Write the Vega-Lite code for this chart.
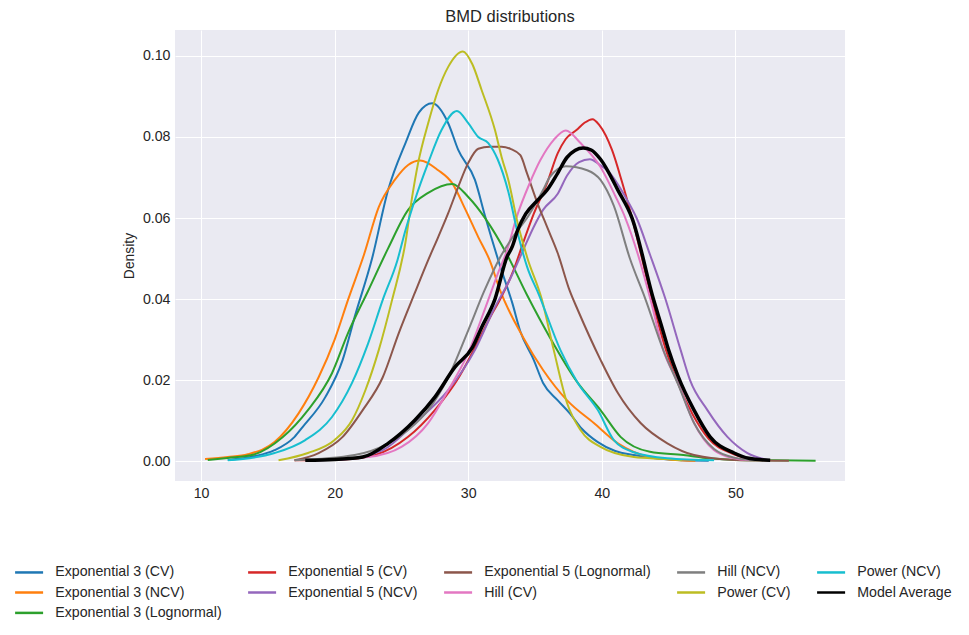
{
  "$schema": "https://vega.github.io/schema/vega-lite/v6.json",
  "description": "BMD distributions, density of each model",
  "autosize": {"type": "none"},
  "padding": {"left": 175, "top": 30, "right": 124, "bottom": 154},
  "width": 670,
  "height": 451,
  "background": "white",
  "title": {"text": "BMD distributions", "offset": 5, "frame": "group"},
  "datasets": {
    "kde": [
      {"model": "Exponential 3 (CV)", "bmd": 12, "density": 0.0003},
      {"model": "Exponential 3 (CV)", "bmd": 14, "density": 0.0012},
      {"model": "Exponential 3 (CV)", "bmd": 15.5, "density": 0.0027},
      {"model": "Exponential 3 (CV)", "bmd": 17, "density": 0.006},
      {"model": "Exponential 3 (CV)", "bmd": 17.6, "density": 0.0084},
      {"model": "Exponential 3 (CV)", "bmd": 19.3, "density": 0.0158},
      {"model": "Exponential 3 (CV)", "bmd": 20.6, "density": 0.025},
      {"model": "Exponential 3 (CV)", "bmd": 21.5, "density": 0.0356},
      {"model": "Exponential 3 (CV)", "bmd": 22.8, "density": 0.05},
      {"model": "Exponential 3 (CV)", "bmd": 24, "density": 0.0669},
      {"model": "Exponential 3 (CV)", "bmd": 25.3, "density": 0.0785},
      {"model": "Exponential 3 (CV)", "bmd": 26.3, "density": 0.086},
      {"model": "Exponential 3 (CV)", "bmd": 27.3, "density": 0.0883},
      {"model": "Exponential 3 (CV)", "bmd": 28.5, "density": 0.0834},
      {"model": "Exponential 3 (CV)", "bmd": 29.25, "density": 0.0768},
      {"model": "Exponential 3 (CV)", "bmd": 30.5, "density": 0.0694},
      {"model": "Exponential 3 (CV)", "bmd": 31.3, "density": 0.06},
      {"model": "Exponential 3 (CV)", "bmd": 32.4, "density": 0.048},
      {"model": "Exponential 3 (CV)", "bmd": 33.3, "density": 0.039},
      {"model": "Exponential 3 (CV)", "bmd": 33.9, "density": 0.032},
      {"model": "Exponential 3 (CV)", "bmd": 34.9, "density": 0.025},
      {"model": "Exponential 3 (CV)", "bmd": 35.6, "density": 0.0193},
      {"model": "Exponential 3 (CV)", "bmd": 36.7, "density": 0.015},
      {"model": "Exponential 3 (CV)", "bmd": 37.6, "density": 0.0118},
      {"model": "Exponential 3 (CV)", "bmd": 38.5, "density": 0.008},
      {"model": "Exponential 3 (CV)", "bmd": 39.7, "density": 0.0047},
      {"model": "Exponential 3 (CV)", "bmd": 41, "density": 0.0025},
      {"model": "Exponential 3 (CV)", "bmd": 42.4, "density": 0.0015},
      {"model": "Exponential 3 (CV)", "bmd": 44, "density": 0.0007},
      {"model": "Exponential 3 (CV)", "bmd": 46, "density": 0.0002},
      {"model": "Exponential 3 (CV)", "bmd": 48, "density": 0.0001},

      {"model": "Exponential 3 (NCV)", "bmd": 10.3, "density": 0.0005},
      {"model": "Exponential 3 (NCV)", "bmd": 12, "density": 0.001},
      {"model": "Exponential 3 (NCV)", "bmd": 13.5, "density": 0.0017},
      {"model": "Exponential 3 (NCV)", "bmd": 15.5, "density": 0.0047},
      {"model": "Exponential 3 (NCV)", "bmd": 17.3, "density": 0.0118},
      {"model": "Exponential 3 (NCV)", "bmd": 18.8, "density": 0.0207},
      {"model": "Exponential 3 (NCV)", "bmd": 20, "density": 0.03},
      {"model": "Exponential 3 (NCV)", "bmd": 21, "density": 0.0398},
      {"model": "Exponential 3 (NCV)", "bmd": 22.2, "density": 0.051},
      {"model": "Exponential 3 (NCV)", "bmd": 23.3, "density": 0.0627},
      {"model": "Exponential 3 (NCV)", "bmd": 24.5, "density": 0.0694},
      {"model": "Exponential 3 (NCV)", "bmd": 25.5, "density": 0.0731},
      {"model": "Exponential 3 (NCV)", "bmd": 26.4, "density": 0.0742},
      {"model": "Exponential 3 (NCV)", "bmd": 27.75, "density": 0.0718},
      {"model": "Exponential 3 (NCV)", "bmd": 28.8, "density": 0.0686},
      {"model": "Exponential 3 (NCV)", "bmd": 29.8, "density": 0.062},
      {"model": "Exponential 3 (NCV)", "bmd": 30.75, "density": 0.0553},
      {"model": "Exponential 3 (NCV)", "bmd": 31.6, "density": 0.0496},
      {"model": "Exponential 3 (NCV)", "bmd": 32.4, "density": 0.042},
      {"model": "Exponential 3 (NCV)", "bmd": 34.1, "density": 0.0306},
      {"model": "Exponential 3 (NCV)", "bmd": 35.6, "density": 0.0225},
      {"model": "Exponential 3 (NCV)", "bmd": 37.4, "density": 0.015},
      {"model": "Exponential 3 (NCV)", "bmd": 39.4, "density": 0.0094},
      {"model": "Exponential 3 (NCV)", "bmd": 41.2, "density": 0.0044},
      {"model": "Exponential 3 (NCV)", "bmd": 43.6, "density": 0.001},
      {"model": "Exponential 3 (NCV)", "bmd": 45.5, "density": 0.0003},
      {"model": "Exponential 3 (NCV)", "bmd": 47, "density": 0.0001},

      {"model": "Exponential 3 (Lognormal)", "bmd": 10.5, "density": 0.0003},
      {"model": "Exponential 3 (Lognormal)", "bmd": 12, "density": 0.0008},
      {"model": "Exponential 3 (Lognormal)", "bmd": 13.8, "density": 0.0015},
      {"model": "Exponential 3 (Lognormal)", "bmd": 16.1, "density": 0.0059},
      {"model": "Exponential 3 (Lognormal)", "bmd": 18, "density": 0.0126},
      {"model": "Exponential 3 (Lognormal)", "bmd": 19.8, "density": 0.0217},
      {"model": "Exponential 3 (Lognormal)", "bmd": 21, "density": 0.0316},
      {"model": "Exponential 3 (Lognormal)", "bmd": 22.5, "density": 0.042},
      {"model": "Exponential 3 (Lognormal)", "bmd": 24, "density": 0.0525},
      {"model": "Exponential 3 (Lognormal)", "bmd": 25.5, "density": 0.062},
      {"model": "Exponential 3 (Lognormal)", "bmd": 27, "density": 0.0662},
      {"model": "Exponential 3 (Lognormal)", "bmd": 28.8, "density": 0.0684},
      {"model": "Exponential 3 (Lognormal)", "bmd": 30, "density": 0.0652},
      {"model": "Exponential 3 (Lognormal)", "bmd": 31.3, "density": 0.0598},
      {"model": "Exponential 3 (Lognormal)", "bmd": 32.9, "density": 0.051},
      {"model": "Exponential 3 (Lognormal)", "bmd": 34.4, "density": 0.041},
      {"model": "Exponential 3 (Lognormal)", "bmd": 36.1, "density": 0.0306},
      {"model": "Exponential 3 (Lognormal)", "bmd": 38.2, "density": 0.0193},
      {"model": "Exponential 3 (Lognormal)", "bmd": 39.9, "density": 0.0126},
      {"model": "Exponential 3 (Lognormal)", "bmd": 41.4, "density": 0.006},
      {"model": "Exponential 3 (Lognormal)", "bmd": 43.6, "density": 0.0023},
      {"model": "Exponential 3 (Lognormal)", "bmd": 46.1, "density": 0.0015},
      {"model": "Exponential 3 (Lognormal)", "bmd": 48, "density": 0.0007},
      {"model": "Exponential 3 (Lognormal)", "bmd": 50, "density": 0.0003},
      {"model": "Exponential 3 (Lognormal)", "bmd": 53, "density": 0.0002},
      {"model": "Exponential 3 (Lognormal)", "bmd": 56, "density": 0.0001},

      {"model": "Exponential 5 (CV)", "bmd": 17, "density": 0.0002},
      {"model": "Exponential 5 (CV)", "bmd": 20.6, "density": 0.0004},
      {"model": "Exponential 5 (CV)", "bmd": 23, "density": 0.0015},
      {"model": "Exponential 5 (CV)", "bmd": 25.5, "density": 0.006},
      {"model": "Exponential 5 (CV)", "bmd": 27.5, "density": 0.0126},
      {"model": "Exponential 5 (CV)", "bmd": 29.3, "density": 0.0207},
      {"model": "Exponential 5 (CV)", "bmd": 30.5, "density": 0.028},
      {"model": "Exponential 5 (CV)", "bmd": 31.8, "density": 0.0365},
      {"model": "Exponential 5 (CV)", "bmd": 32.4, "density": 0.04},
      {"model": "Exponential 5 (CV)", "bmd": 33.4, "density": 0.0472},
      {"model": "Exponential 5 (CV)", "bmd": 34.1, "density": 0.0538},
      {"model": "Exponential 5 (CV)", "bmd": 34.9, "density": 0.061},
      {"model": "Exponential 5 (CV)", "bmd": 35.9, "density": 0.0686},
      {"model": "Exponential 5 (CV)", "bmd": 36.7, "density": 0.076},
      {"model": "Exponential 5 (CV)", "bmd": 37.3, "density": 0.0795},
      {"model": "Exponential 5 (CV)", "bmd": 38.1, "density": 0.0817},
      {"model": "Exponential 5 (CV)", "bmd": 38.7, "density": 0.0835},
      {"model": "Exponential 5 (CV)", "bmd": 39.3, "density": 0.0844},
      {"model": "Exponential 5 (CV)", "bmd": 39.8, "density": 0.083},
      {"model": "Exponential 5 (CV)", "bmd": 40.76, "density": 0.0768},
      {"model": "Exponential 5 (CV)", "bmd": 41.5, "density": 0.069},
      {"model": "Exponential 5 (CV)", "bmd": 42.26, "density": 0.06},
      {"model": "Exponential 5 (CV)", "bmd": 43.75, "density": 0.04},
      {"model": "Exponential 5 (CV)", "bmd": 44.8, "density": 0.0274},
      {"model": "Exponential 5 (CV)", "bmd": 45.6, "density": 0.02},
      {"model": "Exponential 5 (CV)", "bmd": 46.8, "density": 0.0115},
      {"model": "Exponential 5 (CV)", "bmd": 48, "density": 0.0055},
      {"model": "Exponential 5 (CV)", "bmd": 49.8, "density": 0.0018},
      {"model": "Exponential 5 (CV)", "bmd": 51, "density": 0.0005},

      {"model": "Exponential 5 (NCV)", "bmd": 18, "density": 0.0002},
      {"model": "Exponential 5 (NCV)", "bmd": 20.6, "density": 0.0004},
      {"model": "Exponential 5 (NCV)", "bmd": 23.6, "density": 0.0027},
      {"model": "Exponential 5 (NCV)", "bmd": 26, "density": 0.0094},
      {"model": "Exponential 5 (NCV)", "bmd": 28.5, "density": 0.0175},
      {"model": "Exponential 5 (NCV)", "bmd": 30.5, "density": 0.0274},
      {"model": "Exponential 5 (NCV)", "bmd": 32, "density": 0.038},
      {"model": "Exponential 5 (NCV)", "bmd": 33.1, "density": 0.0447},
      {"model": "Exponential 5 (NCV)", "bmd": 34.1, "density": 0.052},
      {"model": "Exponential 5 (NCV)", "bmd": 34.9, "density": 0.0578},
      {"model": "Exponential 5 (NCV)", "bmd": 35.6, "density": 0.062},
      {"model": "Exponential 5 (NCV)", "bmd": 36.7, "density": 0.066},
      {"model": "Exponential 5 (NCV)", "bmd": 37.4, "density": 0.0705},
      {"model": "Exponential 5 (NCV)", "bmd": 38.3, "density": 0.0738},
      {"model": "Exponential 5 (NCV)", "bmd": 39.1, "density": 0.0745},
      {"model": "Exponential 5 (NCV)", "bmd": 39.9, "density": 0.073},
      {"model": "Exponential 5 (NCV)", "bmd": 40.4, "density": 0.0718},
      {"model": "Exponential 5 (NCV)", "bmd": 41.9, "density": 0.0644},
      {"model": "Exponential 5 (NCV)", "bmd": 42.6, "density": 0.06},
      {"model": "Exponential 5 (NCV)", "bmd": 43.6, "density": 0.051},
      {"model": "Exponential 5 (NCV)", "bmd": 44.76, "density": 0.04},
      {"model": "Exponential 5 (NCV)", "bmd": 45.9, "density": 0.0274},
      {"model": "Exponential 5 (NCV)", "bmd": 46.6, "density": 0.02},
      {"model": "Exponential 5 (NCV)", "bmd": 47.9, "density": 0.0126},
      {"model": "Exponential 5 (NCV)", "bmd": 49.4, "density": 0.006},
      {"model": "Exponential 5 (NCV)", "bmd": 50.9, "density": 0.002},
      {"model": "Exponential 5 (NCV)", "bmd": 52.4, "density": 0.0003},

      {"model": "Exponential 5 (Lognormal)", "bmd": 17, "density": 0.0002},
      {"model": "Exponential 5 (Lognormal)", "bmd": 18.8, "density": 0.002},
      {"model": "Exponential 5 (Lognormal)", "bmd": 20.6, "density": 0.006},
      {"model": "Exponential 5 (Lognormal)", "bmd": 22.1, "density": 0.0126},
      {"model": "Exponential 5 (Lognormal)", "bmd": 23.6, "density": 0.0207},
      {"model": "Exponential 5 (Lognormal)", "bmd": 24.8, "density": 0.0316},
      {"model": "Exponential 5 (Lognormal)", "bmd": 26, "density": 0.0415},
      {"model": "Exponential 5 (Lognormal)", "bmd": 27, "density": 0.0496},
      {"model": "Exponential 5 (Lognormal)", "bmd": 27.75, "density": 0.0553},
      {"model": "Exponential 5 (Lognormal)", "bmd": 28.5, "density": 0.0612},
      {"model": "Exponential 5 (Lognormal)", "bmd": 29.25, "density": 0.0677},
      {"model": "Exponential 5 (Lognormal)", "bmd": 30, "density": 0.0736},
      {"model": "Exponential 5 (Lognormal)", "bmd": 30.75, "density": 0.0771},
      {"model": "Exponential 5 (Lognormal)", "bmd": 31.6, "density": 0.0776},
      {"model": "Exponential 5 (Lognormal)", "bmd": 32.5, "density": 0.0776},
      {"model": "Exponential 5 (Lognormal)", "bmd": 33.2, "density": 0.077},
      {"model": "Exponential 5 (Lognormal)", "bmd": 33.9, "density": 0.0755},
      {"model": "Exponential 5 (Lognormal)", "bmd": 34.4, "density": 0.071},
      {"model": "Exponential 5 (Lognormal)", "bmd": 35.2, "density": 0.0635},
      {"model": "Exponential 5 (Lognormal)", "bmd": 35.9, "density": 0.0578},
      {"model": "Exponential 5 (Lognormal)", "bmd": 36.7, "density": 0.0513},
      {"model": "Exponential 5 (Lognormal)", "bmd": 37.6, "density": 0.042},
      {"model": "Exponential 5 (Lognormal)", "bmd": 38.2, "density": 0.0373},
      {"model": "Exponential 5 (Lognormal)", "bmd": 39.9, "density": 0.025},
      {"model": "Exponential 5 (Lognormal)", "bmd": 41.2, "density": 0.0168},
      {"model": "Exponential 5 (Lognormal)", "bmd": 42.9, "density": 0.0094},
      {"model": "Exponential 5 (Lognormal)", "bmd": 44.9, "density": 0.0044},
      {"model": "Exponential 5 (Lognormal)", "bmd": 46.9, "density": 0.0015},
      {"model": "Exponential 5 (Lognormal)", "bmd": 49.9, "density": 0.0003},
      {"model": "Exponential 5 (Lognormal)", "bmd": 54, "density": 0.0001},

      {"model": "Hill (CV)", "bmd": 18, "density": 0.0002},
      {"model": "Hill (CV)", "bmd": 22.5, "density": 0.001},
      {"model": "Hill (CV)", "bmd": 25, "density": 0.0035},
      {"model": "Hill (CV)", "bmd": 27, "density": 0.0094},
      {"model": "Hill (CV)", "bmd": 28.5, "density": 0.0175},
      {"model": "Hill (CV)", "bmd": 30, "density": 0.0267},
      {"model": "Hill (CV)", "bmd": 31.3, "density": 0.038},
      {"model": "Hill (CV)", "bmd": 32.3, "density": 0.047},
      {"model": "Hill (CV)", "bmd": 32.9, "density": 0.052},
      {"model": "Hill (CV)", "bmd": 33.6, "density": 0.06},
      {"model": "Hill (CV)", "bmd": 34.6, "density": 0.0686},
      {"model": "Hill (CV)", "bmd": 35.4, "density": 0.0743},
      {"model": "Hill (CV)", "bmd": 36.4, "density": 0.0793},
      {"model": "Hill (CV)", "bmd": 37.3, "density": 0.0816},
      {"model": "Hill (CV)", "bmd": 38.4, "density": 0.0785},
      {"model": "Hill (CV)", "bmd": 39.9, "density": 0.0726},
      {"model": "Hill (CV)", "bmd": 41, "density": 0.0655},
      {"model": "Hill (CV)", "bmd": 41.76, "density": 0.06},
      {"model": "Hill (CV)", "bmd": 42.7, "density": 0.051},
      {"model": "Hill (CV)", "bmd": 43.63, "density": 0.04},
      {"model": "Hill (CV)", "bmd": 44.6, "density": 0.0274},
      {"model": "Hill (CV)", "bmd": 45.7, "density": 0.0193},
      {"model": "Hill (CV)", "bmd": 46.9, "density": 0.0094},
      {"model": "Hill (CV)", "bmd": 48.4, "density": 0.0027},
      {"model": "Hill (CV)", "bmd": 49.9, "density": 0.0007},
      {"model": "Hill (CV)", "bmd": 51, "density": 0.0002},

      {"model": "Hill (NCV)", "bmd": 17, "density": 0.0002},
      {"model": "Hill (NCV)", "bmd": 21.5, "density": 0.0015},
      {"model": "Hill (NCV)", "bmd": 23.8, "density": 0.004},
      {"model": "Hill (NCV)", "bmd": 25.5, "density": 0.0077},
      {"model": "Hill (NCV)", "bmd": 27, "density": 0.0126},
      {"model": "Hill (NCV)", "bmd": 28.5, "density": 0.0207},
      {"model": "Hill (NCV)", "bmd": 30, "density": 0.0323},
      {"model": "Hill (NCV)", "bmd": 31.2, "density": 0.042},
      {"model": "Hill (NCV)", "bmd": 32.4, "density": 0.0504},
      {"model": "Hill (NCV)", "bmd": 33.7, "density": 0.057},
      {"model": "Hill (NCV)", "bmd": 34.4, "density": 0.06},
      {"model": "Hill (NCV)", "bmd": 34.9, "density": 0.0627},
      {"model": "Hill (NCV)", "bmd": 35.6, "density": 0.0669},
      {"model": "Hill (NCV)", "bmd": 36.1, "density": 0.0701},
      {"model": "Hill (NCV)", "bmd": 37.3, "density": 0.0728},
      {"model": "Hill (NCV)", "bmd": 38.9, "density": 0.0718},
      {"model": "Hill (NCV)", "bmd": 39.9, "density": 0.0694},
      {"model": "Hill (NCV)", "bmd": 40.9, "density": 0.063},
      {"model": "Hill (NCV)", "bmd": 42.1, "density": 0.05},
      {"model": "Hill (NCV)", "bmd": 43.26, "density": 0.04},
      {"model": "Hill (NCV)", "bmd": 44.6, "density": 0.0274},
      {"model": "Hill (NCV)", "bmd": 45.7, "density": 0.019},
      {"model": "Hill (NCV)", "bmd": 46.9, "density": 0.0094},
      {"model": "Hill (NCV)", "bmd": 48.4, "density": 0.003},
      {"model": "Hill (NCV)", "bmd": 50, "density": 0.0008},
      {"model": "Hill (NCV)", "bmd": 51.5, "density": 0.0002},

      {"model": "Power (CV)", "bmd": 15.8, "density": 0.0002},
      {"model": "Power (CV)", "bmd": 18, "density": 0.002},
      {"model": "Power (CV)", "bmd": 20, "density": 0.0052},
      {"model": "Power (CV)", "bmd": 21.3, "density": 0.0101},
      {"model": "Power (CV)", "bmd": 22.3, "density": 0.0175},
      {"model": "Power (CV)", "bmd": 23.3, "density": 0.0274},
      {"model": "Power (CV)", "bmd": 24.3, "density": 0.0398},
      {"model": "Power (CV)", "bmd": 25.3, "density": 0.054},
      {"model": "Power (CV)", "bmd": 25.8, "density": 0.0652},
      {"model": "Power (CV)", "bmd": 26.25, "density": 0.0736},
      {"model": "Power (CV)", "bmd": 27, "density": 0.0834},
      {"model": "Power (CV)", "bmd": 27.75, "density": 0.0916},
      {"model": "Power (CV)", "bmd": 28.5, "density": 0.0973},
      {"model": "Power (CV)", "bmd": 29.6, "density": 0.1011},
      {"model": "Power (CV)", "bmd": 30.3, "density": 0.098},
      {"model": "Power (CV)", "bmd": 31, "density": 0.0916},
      {"model": "Power (CV)", "bmd": 32, "density": 0.0817},
      {"model": "Power (CV)", "bmd": 32.5, "density": 0.075},
      {"model": "Power (CV)", "bmd": 33, "density": 0.0694},
      {"model": "Power (CV)", "bmd": 33.7, "density": 0.0587},
      {"model": "Power (CV)", "bmd": 34.4, "density": 0.0504},
      {"model": "Power (CV)", "bmd": 35.5, "density": 0.04},
      {"model": "Power (CV)", "bmd": 36.4, "density": 0.0274},
      {"model": "Power (CV)", "bmd": 37.4, "density": 0.0143},
      {"model": "Power (CV)", "bmd": 38.4, "density": 0.0077},
      {"model": "Power (CV)", "bmd": 39.9, "density": 0.0035},
      {"model": "Power (CV)", "bmd": 42.4, "density": 0.001},
      {"model": "Power (CV)", "bmd": 44.9, "density": 0.0005},
      {"model": "Power (CV)", "bmd": 46, "density": 0.0002},

      {"model": "Power (NCV)", "bmd": 12, "density": 0.0002},
      {"model": "Power (NCV)", "bmd": 15.5, "density": 0.002},
      {"model": "Power (NCV)", "bmd": 17.8, "density": 0.0052},
      {"model": "Power (NCV)", "bmd": 19.8, "density": 0.0109},
      {"model": "Power (NCV)", "bmd": 21.3, "density": 0.0193},
      {"model": "Power (NCV)", "bmd": 22.5, "density": 0.029},
      {"model": "Power (NCV)", "bmd": 23.6, "density": 0.0398},
      {"model": "Power (NCV)", "bmd": 24.7, "density": 0.0496},
      {"model": "Power (NCV)", "bmd": 25.3, "density": 0.057},
      {"model": "Power (NCV)", "bmd": 26, "density": 0.0644},
      {"model": "Power (NCV)", "bmd": 27, "density": 0.0736},
      {"model": "Power (NCV)", "bmd": 28, "density": 0.0817},
      {"model": "Power (NCV)", "bmd": 29.15, "density": 0.0864},
      {"model": "Power (NCV)", "bmd": 30, "density": 0.0834},
      {"model": "Power (NCV)", "bmd": 30.75, "density": 0.08},
      {"model": "Power (NCV)", "bmd": 31.5, "density": 0.0785},
      {"model": "Power (NCV)", "bmd": 32.2, "density": 0.0745},
      {"model": "Power (NCV)", "bmd": 33, "density": 0.0665},
      {"model": "Power (NCV)", "bmd": 33.7, "density": 0.0563},
      {"model": "Power (NCV)", "bmd": 34.4, "density": 0.048},
      {"model": "Power (NCV)", "bmd": 35.3, "density": 0.041},
      {"model": "Power (NCV)", "bmd": 36.9, "density": 0.0274},
      {"model": "Power (NCV)", "bmd": 38.2, "density": 0.0193},
      {"model": "Power (NCV)", "bmd": 39.7, "density": 0.0126},
      {"model": "Power (NCV)", "bmd": 40.9, "density": 0.0052},
      {"model": "Power (NCV)", "bmd": 42.4, "density": 0.0022},
      {"model": "Power (NCV)", "bmd": 44.9, "density": 0.0007},
      {"model": "Power (NCV)", "bmd": 48.4, "density": 0.0002},

      {"model": "Model Average", "bmd": 17.8, "density": 0.0002},
      {"model": "Model Average", "bmd": 20, "density": 0.0004},
      {"model": "Model Average", "bmd": 22.1, "density": 0.001},
      {"model": "Model Average", "bmd": 24, "density": 0.0044},
      {"model": "Model Average", "bmd": 26, "density": 0.0101},
      {"model": "Model Average", "bmd": 27.5, "density": 0.0158},
      {"model": "Model Average", "bmd": 29, "density": 0.0232},
      {"model": "Model Average", "bmd": 30.3, "density": 0.028},
      {"model": "Model Average", "bmd": 31, "density": 0.033},
      {"model": "Model Average", "bmd": 32, "density": 0.04},
      {"model": "Model Average", "bmd": 32.9, "density": 0.0504},
      {"model": "Model Average", "bmd": 33.3, "density": 0.053},
      {"model": "Model Average", "bmd": 33.7, "density": 0.057},
      {"model": "Model Average", "bmd": 34.3, "density": 0.061},
      {"model": "Model Average", "bmd": 35.2, "density": 0.0644},
      {"model": "Model Average", "bmd": 35.9, "density": 0.0669},
      {"model": "Model Average", "bmd": 36.7, "density": 0.0711},
      {"model": "Model Average", "bmd": 37.4, "density": 0.075},
      {"model": "Model Average", "bmd": 38.6, "density": 0.0773},
      {"model": "Model Average", "bmd": 39.2, "density": 0.0768},
      {"model": "Model Average", "bmd": 39.9, "density": 0.0745},
      {"model": "Model Average", "bmd": 41.2, "density": 0.0669},
      {"model": "Model Average", "bmd": 42.26, "density": 0.06},
      {"model": "Model Average", "bmd": 43.86, "density": 0.04},
      {"model": "Model Average", "bmd": 44.5, "density": 0.033},
      {"model": "Model Average", "bmd": 45, "density": 0.0274},
      {"model": "Model Average", "bmd": 45.7, "density": 0.021},
      {"model": "Model Average", "bmd": 46.9, "density": 0.0126},
      {"model": "Model Average", "bmd": 48.1, "density": 0.006},
      {"model": "Model Average", "bmd": 49.9, "density": 0.002},
      {"model": "Model Average", "bmd": 51, "density": 0.0007},
      {"model": "Model Average", "bmd": 52.6, "density": 0.0002}
    ]
  },
  "data": {"name": "kde"},
  "encoding": {
    "x": {
      "field": "bmd",
      "type": "quantitative",
      "title": null,
      "scale": {"domain": [8.05, 58.2], "nice": false, "zero": false},
      "axis": {"values": [10, 20, 30, 40, 50]}
    },
    "y": {
      "field": "density",
      "type": "quantitative",
      "title": "Density",
      "scale": {"domain": [-0.0049, 0.1064], "nice": false, "zero": false},
      "axis": {"values": [0, 0.02, 0.04, 0.06, 0.08, 0.1], "format": ".2f"}
    },
    "color": {
      "field": "model",
      "type": "nominal",
      "title": null,
      "scale": {
        "domain": [
          "Exponential 3 (CV)", "Exponential 5 (CV)", "Exponential 5 (Lognormal)", "Hill (NCV)", "Power (NCV)",
          "Exponential 3 (NCV)", "Exponential 5 (NCV)", "Hill (CV)", "Power (CV)", "Model Average",
          "Exponential 3 (Lognormal)"
        ],
        "range": [
          "#1f77b4", "#d62728", "#8c564b", "#7f7f7f", "#17becf",
          "#ff7f0e", "#9467bd", "#e377c2", "#bcbd22", "#000000",
          "#2ca02c"
        ]
      },
      "legend": {
        "orient": "none",
        "direction": "horizontal",
        "legendX": -164,
        "legendY": 535,
        "columns": 5,
        "columnPadding": 21,
        "rowPadding": 5.4,
        "padding": 0,
        "symbolType": "M-0.6,0H5",
        "symbolSize": 100,
        "symbolStrokeWidth": 2.5,
        "labelOffset": 30,
        "labelLimit": 300
      }
    }
  },
  "layer": [
    {
      "transform": [{"filter": "datum.model !== 'Model Average'"}],
      "mark": {"type": "line", "interpolate": "monotone", "strokeWidth": 2}
    },
    {
      "transform": [{"filter": "datum.model === 'Model Average'"}],
      "mark": {"type": "line", "interpolate": "monotone", "strokeWidth": 3.5}
    }
  ],
  "config": {
    "font": "Liberation Sans",
    "view": {"fill": "#EAEAF2", "stroke": null},
    "axis": {
      "domain": false,
      "ticks": false,
      "grid": true,
      "gridColor": "#ffffff",
      "gridWidth": 1,
      "labelFont": "Liberation Sans",
      "labelFontSize": 14.2,
      "labelColor": "#262626",
      "labelPadding": 5,
      "titleFont": "Liberation Sans",
      "titleFontSize": 13.9,
      "titleFontWeight": "normal",
      "titleColor": "#262626",
      "titlePadding": 6
    },
    "legend": {
      "labelFont": "Liberation Sans",
      "labelFontSize": 14.2,
      "labelColor": "#262626"
    },
    "title": {
      "font": "Liberation Sans",
      "fontSize": 16.5,
      "fontWeight": "normal",
      "color": "#262626"
    }
  }
}
